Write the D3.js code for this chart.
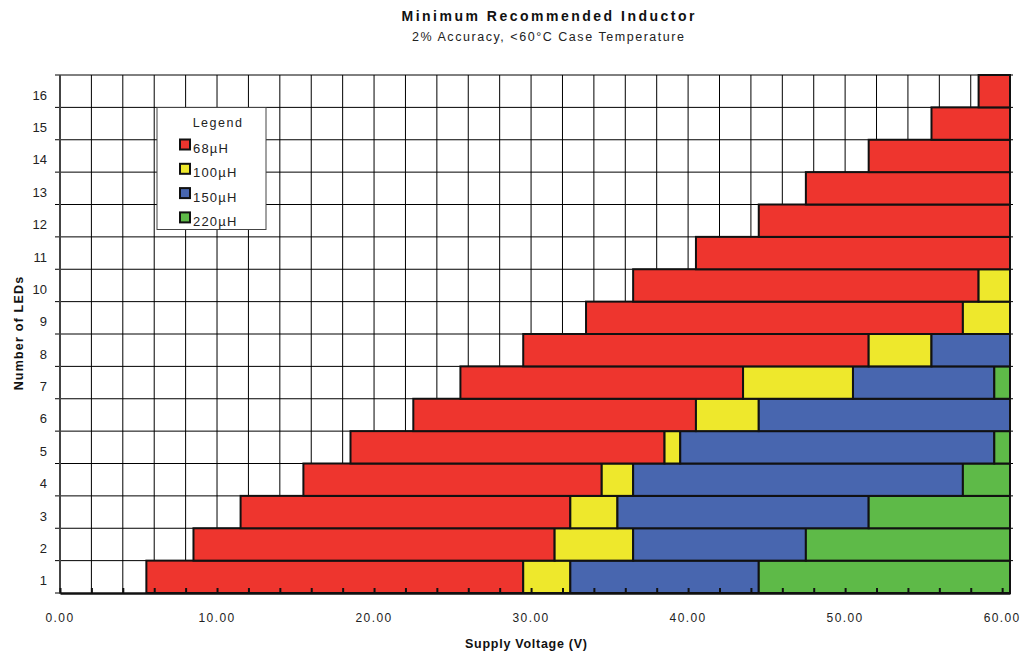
<!DOCTYPE html>
<html>
<head>
<meta charset="utf-8">
<script src="https://cdn.jsdelivr.net/npm/d3@7"></script>
<style>
  html, body { margin: 0; padding: 0; background: #fff; }
  svg { display: block; font-family: "Liberation Sans", Arial, sans-serif; }
</style>
</head>
<body>
<svg id="chart" width="1022" height="655"></svg>
<script>
// ---- data (Supply voltage, V, where each inductor range starts; null = not present) ----
const leds      = [1, 2, 3, 4, 5, 6, 7, 8, 9, 10, 11, 12, 13, 14, 15, 16];
const start68   = [5.5, 8.5, 11.5, 15.5, 18.5, 22.5, 25.5, 29.5, 33.5, 36.5, 40.5, 44.5, 47.5, 51.5, 55.5, 58.5];
const start100  = [29.5, 31.5, 32.5, 34.5, 38.5, 40.5, 43.5, 51.5, 57.5, 58.5, null, null, null, null, null, null];
const start150  = [32.5, 36.5, 35.5, 36.5, 39.5, 44.5, 50.5, 55.5, null, null, null, null, null, null, null, null];
const start220  = [44.5, 47.5, 51.5, 57.5, 59.5, null, 59.5, null, null, null, null, null, null, null, null, null];
const maxVoltage = 60.5;
const seriesNames = ["68µH", "100µH", "150µH", "220µH"];
const seriesColors = ["#EE352E", "#EEE82C", "#4866AF", "#5EBA48"];
const xTickLabels = [0, 10, 20, 30, 40, 50, 60];
const xMinorTicks = d3.range(0, 61, 2);

// ---- build segments ----
const starts = [start68, start100, start150, start220];
const segments = [];
leds.forEach((n, i) => {
  const pts = starts.map((s, k) => ({ k, v: s[i] })).filter(d => d.v != null);
  pts.forEach((p, j) => {
    const end = j + 1 < pts.length ? pts[j + 1].v : maxVoltage;
    segments.push({ n, series: p.k, x0: p.v, x1: end });
  });
});

// ---- layout ----
const svg = d3.select("#chart");
const pL = 60, pR = 1010, pT = 75, pB = 593;
const x = d3.scaleLinear().domain([0, maxVoltage]).range([pL, pR]);
const y = d3.scaleLinear().domain([0.5, 16.5]).range([pB, pT]);

// grid
const grid = svg.append("g");
grid.selectAll("line.v").data(xMinorTicks.filter(d => d > 0)).join("line")
  .attr("x1", d => x(d)).attr("x2", d => x(d))
  .attr("y1", pT).attr("y2", pB)
  .attr("stroke", "#000").attr("stroke-width", 1);
grid.selectAll("line.h").data(d3.range(1.5, 17, 1)).join("line")
  .attr("x1", pL - 5).attr("x2", pR + 3)
  .attr("y1", d => y(d)).attr("y2", d => y(d))
  .attr("stroke", "#000").attr("stroke-width", 1);
grid.append("line").attr("x1", pL - 5).attr("x2", pL).attr("y1", pB).attr("y2", pB)
  .attr("stroke", "#000");

// bars
svg.append("g").selectAll("rect").data(segments).join("rect")
  .attr("x", d => x(d.x0))
  .attr("width", d => x(d.x1) - x(d.x0))
  .attr("y", d => y(d.n + 0.5))
  .attr("height", d => y(d.n - 0.5) - y(d.n + 0.5))
  .attr("fill", d => seriesColors[d.series])
  .attr("stroke", "#111").attr("stroke-width", 2);

// left axis line
svg.append("line").attr("x1", pL).attr("x2", pL).attr("y1", pT).attr("y2", pB + 1)
  .attr("stroke", "#444").attr("stroke-width", 2);

// bottom axis line with inner ticks
const xAxis = d3.axisBottom(x).tickValues(xMinorTicks).tickSizeInner(-5).tickSizeOuter(0).tickFormat("");
const gx = svg.append("g").attr("transform", `translate(0,${pB})`).call(xAxis);
gx.select(".domain").attr("stroke", "#111").attr("stroke-width", 2.5);
gx.selectAll(".tick line").attr("stroke", "#111").attr("stroke-width", 2);

// x tick labels
svg.append("g").selectAll("text").data(xTickLabels).join("text")
  .attr("x", d => x(d)).attr("y", 622)
  .attr("text-anchor", "middle")
  .attr("font-size", 12).attr("letter-spacing", 1.4).attr("fill", "#222")
  .text(d => d3.format(".2f")(d));

// y tick labels
svg.append("g").selectAll("text").data(leds).join("text")
  .attr("x", 47).attr("y", d => y(d) + 8.5)
  .attr("text-anchor", "end")
  .attr("font-size", 13).attr("fill", "#222")
  .text(d => d);

// titles
svg.append("text").attr("x", 548).attr("y", 21).attr("text-anchor", "middle")
  .attr("font-size", 14).attr("font-weight", "bold").attr("fill", "#111")
  .attr("textLength", 293).attr("lengthAdjust", "spacing")
  .text("Minimum Recommended Inductor");
svg.append("text").attr("x", 548).attr("y", 41).attr("text-anchor", "middle")
  .attr("font-size", 12.5).attr("fill", "#222")
  .attr("textLength", 272).attr("lengthAdjust", "spacing")
  .text("2% Accuracy, <60°C Case Temperature");
svg.append("text").attr("x", 526).attr("y", 648).attr("text-anchor", "middle")
  .attr("font-size", 12.5).attr("font-weight", "bold").attr("fill", "#111")
  .attr("textLength", 122).attr("lengthAdjust", "spacing")
  .text("Supply Voltage (V)");
svg.append("text").attr("transform", "translate(23,333) rotate(-90)").attr("text-anchor", "middle")
  .attr("font-size", 12.5).attr("font-weight", "bold").attr("fill", "#111")
  .attr("letter-spacing", 1.2)
  .text("Number of LEDs");

// legend
const lg = svg.append("g");
lg.append("rect").attr("x", 157).attr("y", 107.5).attr("width", 109).attr("height", 122)
  .attr("fill", "#fff").attr("stroke", "#444").attr("stroke-width", 1);
lg.append("text").attr("x", 218).attr("y", 127).attr("text-anchor", "middle")
  .attr("font-size", 12.5).attr("letter-spacing", 1.5).attr("fill", "#222").text("Legend");
const items = lg.selectAll("g.item").data(seriesNames).join("g")
  .attr("transform", (d, i) => `translate(0,${i * 24.3})`);
items.append("rect").attr("x", 180).attr("y", 139.5).attr("width", 10).attr("height", 10)
  .attr("fill", (d, i) => seriesColors[i]).attr("stroke", "#111").attr("stroke-width", 2);
items.append("text").attr("x", 193).attr("y", 153).attr("font-size", 13)
  .attr("letter-spacing", 1.2).attr("fill", "#222").text(d => d);
</script>
</body>
</html>
